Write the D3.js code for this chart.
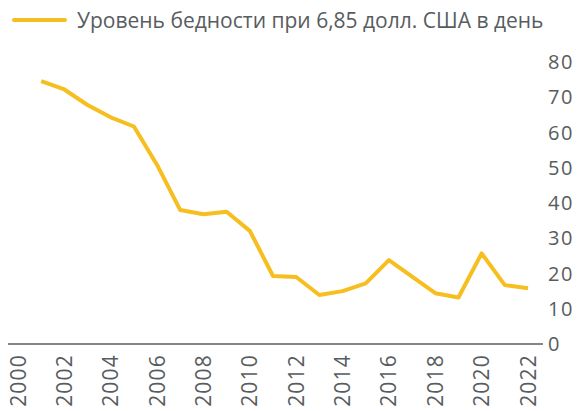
<!DOCTYPE html>
<html>
<head>
<meta charset="utf-8">
<script src="https://cdn.jsdelivr.net/npm/d3@7"></script>
<style>
  html, body { margin: 0; padding: 0; background: #fff; }
  text { font-family: "Open Sans", "Noto Sans", sans-serif; fill: #575c5e; }
</style>
</head>
<body>
<svg id="chart" width="578" height="411"></svg>
<script>
// ─── data ─────────────────────────────────────────────────────────────
const years = [2001, 2002, 2003, 2004, 2005, 2006, 2007, 2008, 2009, 2010, 2011,
               2012, 2013, 2014, 2015, 2016, 2017, 2018, 2019, 2020, 2021, 2022];
const povertyRate = [74.6, 72.2, 67.8, 64.3, 61.7, 50.8, 38.0, 36.8, 37.5, 32.1, 19.3,
                     19.0, 13.9, 15.0, 17.2, 23.8, 19.1, 14.4, 13.2, 25.7, 16.7, 15.8];
const xTicks = d3.range(2000, 2023, 2);
const yTicks = [0, 10, 20, 30, 40, 50, 60, 70, 80];
const seriesLabel = "Уровень бедности при 6,85 долл. США в день";

// ─── setup ────────────────────────────────────────────────────────────
const svg = d3.select("#chart");
const yellow = "#f6be1f";

const x = d3.scaleLinear().domain([2000, 2022]).range([18, 528]);
const y = d3.scaleLinear().domain([0, 80]).range([344, 62]);

// baseline
svg.append("line")
  .attr("x1", 8).attr("x2", 543)
  .attr("y1", y(0)).attr("y2", y(0))
  .attr("stroke", "#858585").attr("stroke-width", 2);

// y labels on the right
svg.append("g").selectAll("text")
  .data(yTicks).enter().append("text")
  .attr("x", 548).attr("y", d => y(d))
  .attr("dy", "0.36em")
  .style("font-size", "20px")
  .style("letter-spacing", "1.5px")
  .text(d => d);

// rotated x labels (kept just inside the bottom edge)
svg.append("g").selectAll("text")
  .data(xTicks).enter().append("text")
  .attr("transform", d => `translate(${x(d)},354) rotate(-90)`)
  .attr("text-anchor", "end")
  .attr("dy", "0.36em")
  .style("font-size", "21px")
  .style("letter-spacing", "1.2px")
  .text(d => d);

// line
const line = d3.line()
  .x((d, i) => x(years[i]))
  .y(d => y(d));

svg.append("path")
  .datum(povertyRate)
  .attr("d", line)
  .attr("fill", "none")
  .attr("stroke", yellow)
  .attr("stroke-width", 4)
  .attr("stroke-linejoin", "round");

// legend
const legend = svg.append("g");
legend.append("line")
  .attr("x1", 14).attr("x2", 65).attr("y1", 20).attr("y2", 20)
  .attr("stroke", yellow).attr("stroke-width", 4).attr("stroke-linecap", "round");
legend.append("text")
  .attr("x", 77).attr("y", 20).attr("dy", "0.36em")
  .style("font-size", "21px")
  .text(seriesLabel);
</script>
</body>
</html>
